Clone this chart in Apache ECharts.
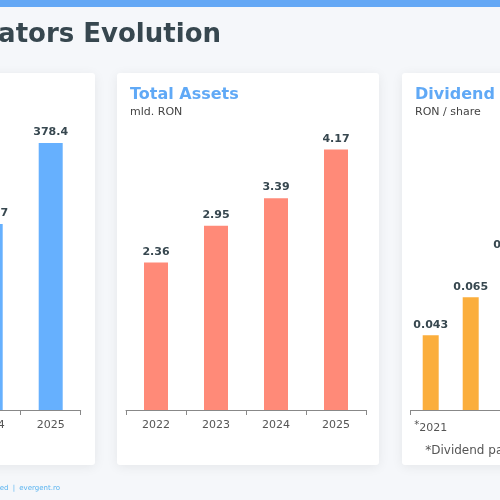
<!DOCTYPE html>
<html>
<head>
<meta charset="utf-8">
<script src="https://cdn.jsdelivr.net/npm/echarts@6/dist/echarts.min.js"></script>
<style>
    html, body { margin: 0; padding: 0; background: #f5f7fa; overflow: hidden; }
    /* the dashboard is wider than the window; only the middle part shows */
    #chart { position: absolute; left: -200px; top: 0; width: 900px; height: 500px; }
</style>
</head>
<body>
<div id="chart"></div>
<script>
    // data (only what is visible)
    const leftYears = ['2024', '2025']
    const leftValues = [263.7, 378.4]

    const assetsYears = ['2022', '2023', '2024', '2025']
    const assetsValues = [2.36, 2.95, 3.39, 4.17]

    const dividendYears = ['*2021', '2022', '2023']
    const dividendValues = [0.043, 0.065, 0.089]

    const font = 'DejaVu Sans'
    const OX = 200   // offset of the visible window inside the canvas
    const gridTop = 97.5
    const gridBottom = 90

    let myChart = echarts.init(document.getElementById('chart'))

    // card background with soft shadow
    function card(x) {
        return {
            type: 'rect',
            shape: { x: OX + x, y: 73, width: 262, height: 392, r: 3 },
            style: {
                fill: '#fff',
                shadowBlur: 12,
                shadowColor: 'rgba(0,0,0,0.07)',
                shadowOffsetY: 2
            },
            z: 0
        }
    }

    function cardTitle(x, title, unit) {
        return [{
            type: 'text', x: OX + x, y: 95,
            style: { text: title, fill: '#60a9f6', font: 'bold 16px ' + font, textVerticalAlign: 'middle' },
            z: 1
        }, {
            type: 'text', x: OX + x, y: 112.5,
            style: { text: unit, fill: '#444', font: '11px ' + font, textVerticalAlign: 'middle' },
            z: 1
        }]
    }

    function xAxisFor(idx, data) {
        return {
            type: 'category',
            gridIndex: idx,
            data: data,
            axisLine: { show: true, lineStyle: { color: '#888' } },
            axisTick: { show: true, length: 5, lineStyle: { color: '#888' } },
            axisLabel: {
                color: '#555',
                fontSize: 11,
                fontFamily: font,
                margin: 10,
                formatter: function (v) {
                    if (v.charAt(0) == '*') return '{sup|*}{n|' + v.slice(1) + '}'
                    return v
                },
                rich: {
                    sup: { fontSize: 10, fontFamily: font, color: '#555', padding: [0, 0, 6, 0] },
                    n: { fontSize: 11, fontFamily: font, color: '#555' }
                }
            }
        }
    }

    function yAxisFor(idx, max) {
        return { type: 'value', gridIndex: idx, min: 0, max: max, show: false }
    }

    function gridAt(left, width) {
        return {
            left: OX + left, width: width, top: gridTop, bottom: gridBottom,
            containLabel: false, outerBoundsMode: 'none'
        }
    }

    function barSeries(idx, values, color) {
        return {
            type: 'bar',
            xAxisIndex: idx,
            yAxisIndex: idx,
            data: values,
            barWidth: '40%',
            itemStyle: { color: color },
            label: {
                show: true,
                position: 'top',
                distance: 5,
                color: '#37474f',
                fontWeight: 'bold',
                fontSize: 11,
                fontFamily: font
            }
        }
    }

    let option = {
        animation: false,
        backgroundColor: '#f5f7fa',
        grid: [
            gridAt(-39.3, 120),
            gridAt(126, 240),
            gridAt(410.7, 120)
        ],
        xAxis: [
            xAxisFor(0, leftYears),
            xAxisFor(1, assetsYears),
            xAxisFor(2, dividendYears)
        ],
        yAxis: [
            yAxisFor(0, 443),
            yAxisFor(1, 5),
            yAxisFor(2, 0.18)
        ],
        series: [
            barSeries(0, leftValues, '#66b0fe'),
            barSeries(1, assetsValues, '#ff8a78'),
            barSeries(2, dividendValues, '#fbae3c')
        ],
        graphic: [
            // top accent bar
            { type: 'rect', shape: { x: 0, y: 0, width: 900, height: 7 }, style: { fill: '#64a8f5' }, z: 1 },
            // page title, right aligned so the visible part lands in place
            {
                type: 'text', x: OX + 221, y: 35.5,
                style: {
                    text: 'Key Indicators Evolution', fill: '#37474f',
                    font: 'bold 26px ' + font, textAlign: 'right', textVerticalAlign: 'middle'
                },
                z: 1
            },
            card(-167),
            card(117),
            card(402),
            ...cardTitle(130, 'Total Assets', 'mld. RON'),
            ...cardTitle(415, 'Dividend', 'RON / share'),
            {
                type: 'text', x: OX + 533, y: 451,
                style: {
                    text: '*Dividend paid in the following year', fill: '#555',
                    font: '12px ' + font, textAlign: 'center', textVerticalAlign: 'middle'
                },
                z: 1
            },
            // footer
            {
                type: 'text', x: OX + 8.5, y: 488,
                style: { text: 'Data: annual reports, audited', fill: '#5ab4f0', font: '7px ' + font, textAlign: 'right', textVerticalAlign: 'middle' },
                z: 1
            },
            {
                type: 'text', x: OX + 14, y: 488,
                style: { text: '|', fill: '#5ab4f0', font: '7px ' + font, textAlign: 'center', textVerticalAlign: 'middle' },
                z: 1
            },
            {
                type: 'text', x: OX + 19.3, y: 488,
                style: { text: 'evergent.ro', fill: '#5ab4f0', font: '7px ' + font, textAlign: 'left', textVerticalAlign: 'middle' },
                z: 1
            }
        ]
    }

    myChart.setOption(option)
</script>
</body>
</html>
